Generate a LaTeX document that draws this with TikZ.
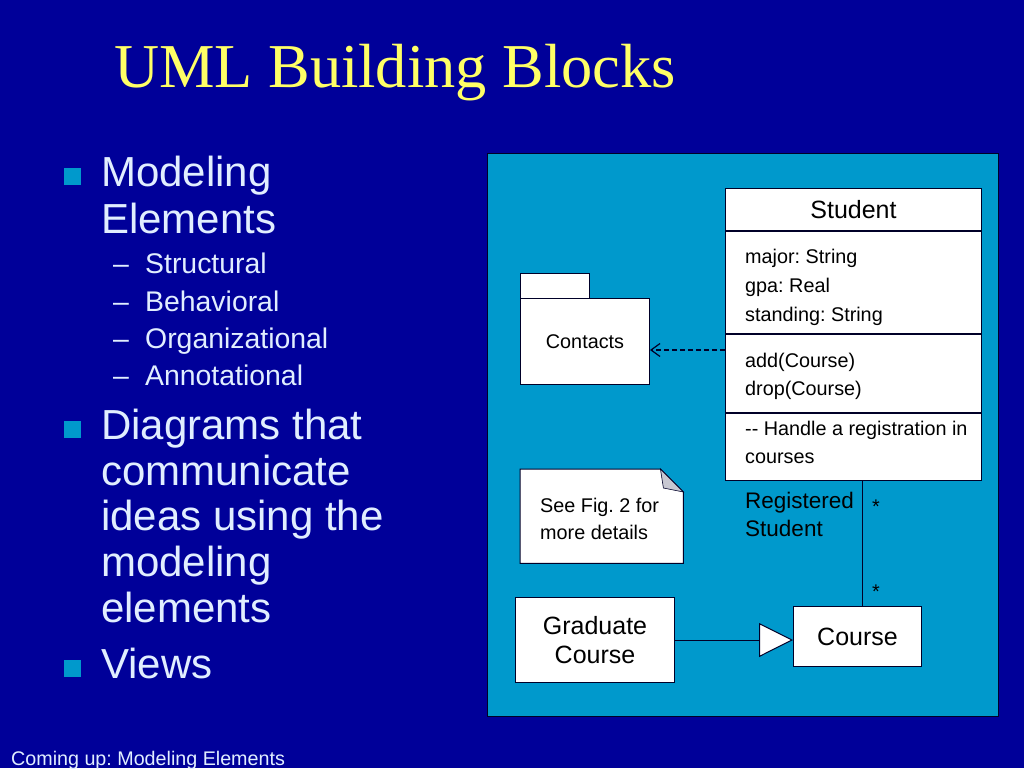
\documentclass[tikz,border=0pt]{standalone}
\usepackage{fontspec}
\setmainfont{Liberation Sans}
\newfontfamily\titlefont{Liberation Serif}
\usepackage{xcolor}
\usetikzlibrary{positioning, arrows.meta}

\definecolor{slidebg}{RGB}{0,0,153}
\definecolor{panelbg}{RGB}{0,153,204}
\definecolor{titleyellow}{RGB}{255,255,102}
\definecolor{bodytext}{RGB}{225,238,255}
\definecolor{umlline}{RGB}{0,0,40}
\definecolor{foldgray}{RGB}{200,200,210}

\begin{document}
\frenchspacing
\begin{tikzpicture}[x=1pt, y=-1pt,
    big/.style={anchor=base west, inner sep=0pt, text=bodytext, font=\fontsize{42}{42}\selectfont},
    sub/.style={anchor=base west, inner sep=0pt, text=bodytext, font=\fontsize{28.4}{28.4}\selectfont},
    bulletsq/.style={fill=panelbg, minimum size=17pt, inner sep=0pt},
    umlbox/.style={draw=umlline, fill=white, line width=1pt, inner sep=0pt, minimum width=256pt},
    small/.style={anchor=base west, inner sep=0pt, font=\fontsize{19.8}{19.8}\selectfont},
    mid/.style={font=\fontsize{25}{29}\selectfont}]
    \useasboundingbox (0,0) rectangle (1024,768);
    \fill[slidebg] (0,0) rectangle (1024,768);

    % title and bullet text
    \node[anchor=base west, inner sep=0pt, text=titleyellow, font=\titlefont\fontsize{62.4}{63}\selectfont] (title) at (114,87) {UML Building Blocks};
    \node[bulletsq] (sq1) at (72,176) {};
    \node[big] (modeling) at (101,186) {Modeling};
    \node[big] (elements) at (101,233) {Elements};
    \node[sub] (structural) at (113,273) {\makebox[32pt][l]{–}Structural};
    \node[sub] (behavioral) at (113,311) {\makebox[32pt][l]{–}Behavioral};
    \node[sub] (organizational) at (113,348) {\makebox[32pt][l]{–}Organizational};
    \node[sub] (annotational) at (113,385) {\makebox[32pt][l]{–}Annotational};
    \node[bulletsq] (sq2) at (72,429) {};
    \node[big] (diagrams) at (101,439) {Diagrams that};
    \node[big] (communicate) at (101,485) {communicate};
    \node[big] (ideas) at (101,530) {ideas using the};
    \node[big] (modeling2) at (101,576) {modeling};
    \node[big] (elements2) at (101,622) {elements};
    \node[bulletsq] (sq3) at (72,668) {};
    \node[big] (views) at (101,678) {Views};
    \node[anchor=base west, inner sep=0pt, text=bodytext, font=\fontsize{19.7}{20}\selectfont] (footer) at (11,765) {Coming up: Modeling Elements};

    % diagram panel
    \node[fill=panelbg, draw=umlline, line width=1pt, minimum width=511pt, minimum height=563pt, anchor=north west, inner sep=0pt] (panel) at (487,153) {};

    % Student class
    \node[umlbox, mid, anchor=north west, minimum height=42pt] (studname) at (725,188) {Student};
    \node[umlbox, minimum height=102pt, below=0pt of studname] (studattr) {};
    \node[umlbox, minimum height=78pt, below=0pt of studattr] (studops) {};
    \node[umlbox, minimum height=67pt, below=0pt of studops] (studnote) {};
    \node[small] (major) at (745,263) {major: String};
    \node[small] (gpa) at (745,292) {gpa: Real};
    \node[small] (standing) at (745,321) {standing: String};
    \node[small] (add) at (745,367) {add(Course)};
    \node[small] (drop) at (745,395) {drop(Course)};
    \node[small] (handle) at (745,435) {-{}- Handle a registration in};
    \node[small] (courses) at (745,463) {courses};

    % Contacts package
    \node[umlbox, anchor=north west, minimum width=69pt, minimum height=26pt] (pkgtab) at (520,273) {};
    \node[umlbox, anchor=north west, minimum width=129pt, minimum height=86pt, font=\fontsize{19.8}{19.8}\selectfont] (pkg) at (520,298) {Contacts};
    \coordinate (dep) at (725,350);
    \draw[umlline, line width=1.2pt, dash pattern=on 5pt off 3pt, -{Straight Barb[length=9pt, width=13pt]}] (dep) -- (dep -| pkg.east);

    % note
    \node[anchor=north west, minimum width=163pt, minimum height=94pt, inner sep=0pt] (note) at (520,469) {};
    \draw[umlline, line width=1pt, fill=white] (note.north west) -- ([xshift=-23pt]note.north east) -- ([yshift=-23pt]note.north east) -- (note.south east) -- (note.south west) -- cycle;
    \draw[umlline, line width=0.6pt, fill=foldgray] ([xshift=-23pt]note.north east) -- ([xshift=-20pt, yshift=-19pt]note.north east) -- ([yshift=-23pt]note.north east) -- cycle;
    \node[small] (seefig) at (540,512) {See Fig. 2 for};
    \node[small] (moredetails) at (540,539) {more details};

    % courses
    \node[umlbox, mid, anchor=north west, minimum width=159pt, minimum height=85pt, align=center] (grad) at (515,597) {Graduate\\Course};
    \node[umlbox, mid, anchor=north west, minimum width=128pt, minimum height=60pt] (course) at (793,606) {Course};
    \draw[umlline, line width=1pt, -{Triangle[length=34pt, width=34pt, fill=white]}] (grad.east) -- (grad.east -| course.west);

    % association
    \draw[umlline, line width=1pt] ([xshift=5pt]course.north) -- ([xshift=5pt]course.north |- studnote.south);
    \node[small] (mult1) at (872,513) {*};
    \node[small] (mult2) at (872,598) {*};
    \node[anchor=base west, inner sep=0pt, font=\fontsize{22.5}{22.5}\selectfont] (regd) at (745,508) {Registered};
    \node[anchor=base west, inner sep=0pt, font=\fontsize{22.5}{22.5}\selectfont] (regstud) at (745,536) {Student};
\end{tikzpicture}
\end{document}
